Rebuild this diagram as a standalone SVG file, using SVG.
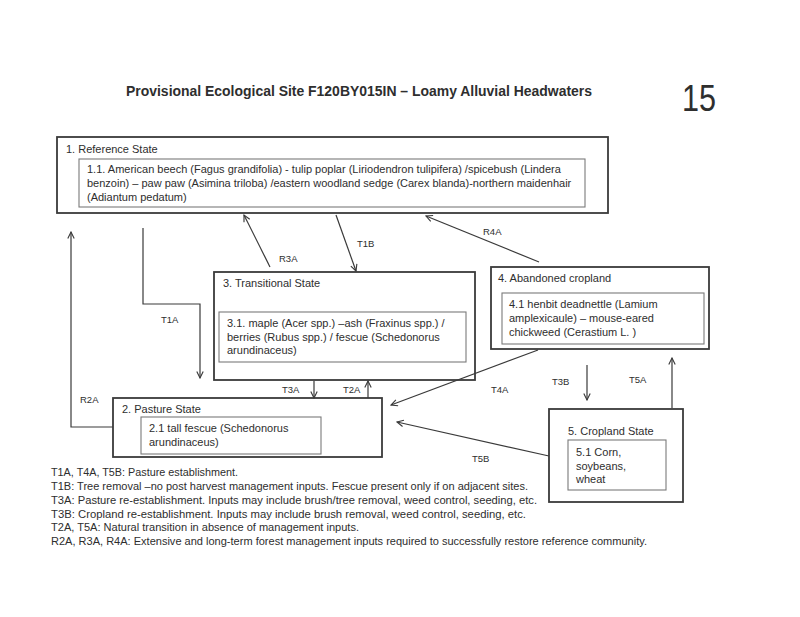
<svg xmlns="http://www.w3.org/2000/svg" width="800" height="617" viewBox="0 0 800 617">
<style>
text{font-family:"Liberation Sans",Arial,sans-serif;fill:#2e2e2e}
.t{font-size:11px}
.lb{font-size:9.5px}
.lg{font-size:10px}
.outer{fill:none;stroke:#3a3a3a;stroke-width:1.8}
.inner{fill:none;stroke:#7a7a7a;stroke-width:1.1}
.c{fill:none;stroke:#3a3a3a;stroke-width:1.2}
</style>
<defs>
<marker id="ah" viewBox="0 0 10 10" refX="9" refY="5" markerWidth="8" markerHeight="8" orient="auto" markerUnits="userSpaceOnUse">
<path d="M1,1 L9,5 L1,9" fill="none" stroke="#3a3a3a" stroke-width="1.4"/>
</marker>
</defs>
<rect width="800" height="617" fill="#fff"/>
<text x="126" y="96" style="font-size:14px;font-weight:bold" textLength="466" lengthAdjust="spacingAndGlyphs">Provisional Ecological Site F120BY015IN – Loamy Alluvial Headwaters</text>
<text x="682" y="111" style="font-size:37px" textLength="34" lengthAdjust="spacingAndGlyphs">15</text>

<g id="ref">
<rect class="outer" x="57" y="137" width="551" height="76"/>
<rect class="inner" x="79" y="159" width="506" height="48"/>
<text class="t" x="66" y="153">1. Reference State</text>
<text class="t" x="87" y="173">1.1. American beech (Fagus grandifolia) - tulip poplar (Liriodendron tulipifera) /spicebush (Lindera</text>
<text class="t" x="87" y="187">benzoin) – paw paw (Asimina triloba) /eastern woodland sedge (Carex blanda)-northern maidenhair</text>
<text class="t" x="87" y="201">(Adiantum pedatum)</text>
</g>

<g id="trans">
<rect class="outer" x="214" y="272" width="261" height="108"/>
<rect class="inner" x="219" y="312" width="247" height="50"/>
<text class="t" x="223" y="287">3. Transitional State</text>
<text class="t" x="227" y="327">3.1. maple (Acer spp.) –ash (Fraxinus spp.) /</text>
<text class="t" x="227" y="341">berries (Rubus spp.) / fescue (Schedonorus</text>
<text class="t" x="227" y="354">arundinaceus)</text>
</g>

<g id="aband">
<rect class="outer" x="491" y="267" width="218" height="82"/>
<rect class="inner" x="502" y="293" width="202" height="51"/>
<text class="t" x="498" y="282">4. Abandoned cropland</text>
<text class="t" x="509" y="308">4.1 henbit deadnettle (Lamium</text>
<text class="t" x="509" y="322">amplexicaule) – mouse-eared</text>
<text class="t" x="509" y="336">chickweed (Cerastium L. )</text>
</g>

<g id="pasture">
<rect class="outer" x="113" y="398" width="269" height="59"/>
<rect class="inner" x="141" y="417" width="180" height="37"/>
<text class="t" x="122" y="413">2. Pasture State</text>
<text class="t" x="149" y="432">2.1 tall fescue (Schedonorus</text>
<text class="t" x="149" y="446">arundinaceus)</text>
</g>

<g id="crop">
<rect class="outer" x="549" y="409" width="134" height="93"/>
<rect class="inner" x="568" y="440" width="98" height="50"/>
<text class="t" x="568" y="435">5. Cropland State</text>
<text class="t" x="576" y="456">5.1 Corn,</text>
<text class="t" x="576" y="470">soybeans,</text>
<text class="t" x="576" y="483">wheat</text>
</g>

<g id="connectors">
<polyline class="c" points="143,228 143,304 200,304 200,378" marker-end="url(#ah)"/>
<polyline class="c" points="113,427 71,427 71,232" marker-end="url(#ah)"/>
<line class="c" x1="270" y1="267" x2="244" y2="215" marker-end="url(#ah)"/>
<line class="c" x1="336" y1="215" x2="356" y2="271" marker-end="url(#ah)"/>
<line class="c" x1="539" y1="262" x2="426" y2="216" marker-end="url(#ah)"/>
<line class="c" x1="314" y1="381" x2="314" y2="398" marker-end="url(#ah)"/>
<line class="c" x1="368" y1="398" x2="368" y2="381" marker-end="url(#ah)"/>
<line class="c" x1="538" y1="350" x2="391" y2="405" marker-end="url(#ah)"/>
<line class="c" x1="549" y1="456" x2="397" y2="422" marker-end="url(#ah)"/>
<line class="c" x1="587" y1="365" x2="587" y2="400" marker-end="url(#ah)"/>
<line class="c" x1="672" y1="408" x2="672" y2="358" marker-end="url(#ah)"/>
<text class="lb" x="161" y="323">T1A</text>
<text class="lb" x="80" y="403">R2A</text>
<text class="lb" x="279" y="262">R3A</text>
<text class="lb" x="357" y="247">T1B</text>
<text class="lb" x="483" y="235">R4A</text>
<text class="lb" x="282" y="393">T3A</text>
<text class="lb" x="343" y="393">T2A</text>
<text class="lb" x="491" y="393">T4A</text>
<text class="lb" x="552" y="385">T3B</text>
<text class="lb" x="629" y="383">T5A</text>
<text class="lb" x="472" y="462">T5B</text>
</g>

<g id="legend">
<text class="lg" x="51" y="476" textLength="187" lengthAdjust="spacingAndGlyphs">T1A, T4A, T5B: Pasture establishment.</text>
<text class="lg" x="51" y="490" textLength="477" lengthAdjust="spacingAndGlyphs">T1B: Tree removal –no post harvest management inputs. Fescue present only if on adjacent sites.</text>
<text class="lg" x="51" y="504" textLength="486" lengthAdjust="spacingAndGlyphs">T3A: Pasture re-establishment.  Inputs may include brush/tree removal, weed control, seeding, etc.</text>
<text class="lg" x="51" y="518" textLength="475" lengthAdjust="spacingAndGlyphs">T3B: Cropland re-establishment. Inputs may include brush removal, weed control, seeding, etc.</text>
<text class="lg" x="51" y="531" textLength="308" lengthAdjust="spacingAndGlyphs">T2A, T5A: Natural transition in absence of management inputs.</text>
<text class="lg" x="51" y="545" textLength="596" lengthAdjust="spacingAndGlyphs">R2A, R3A, R4A: Extensive and long-term forest management inputs required to successfully restore reference community.</text>
</g>
</svg>
